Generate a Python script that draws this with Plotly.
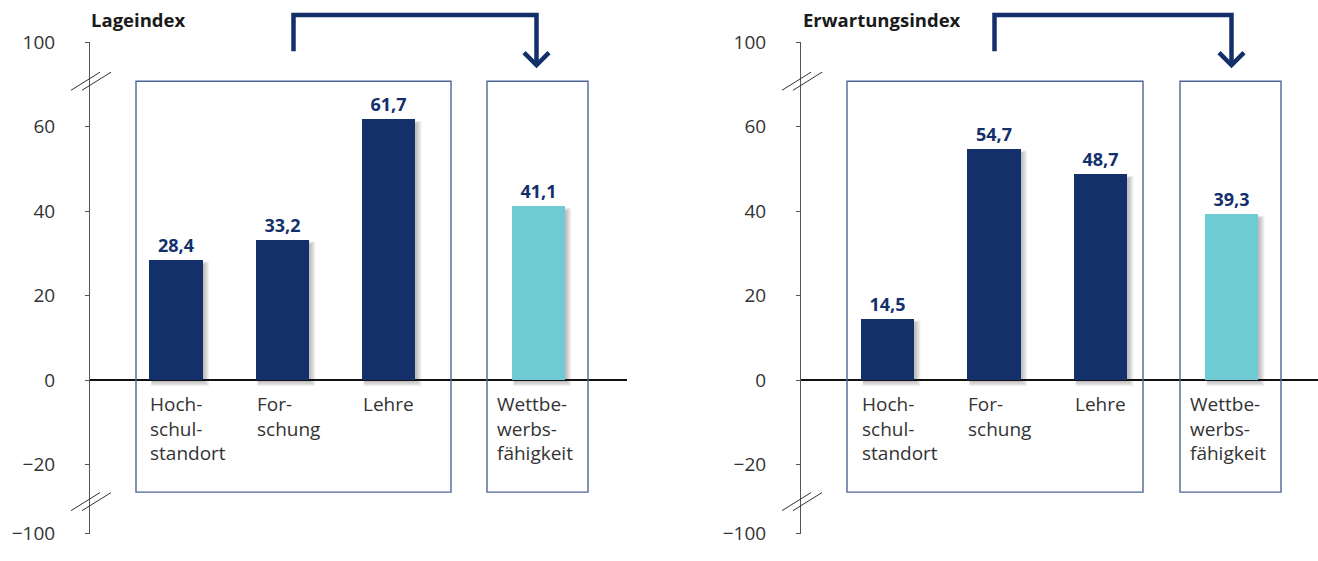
import plotly.graph_objects as go

# ---------------- data ----------------
categories = ["Hoch-<br>schul-<br>standort", "For-<br>schung", "Lehre", "Wettbe-<br>werbs-<br>fähigkeit"]
lage_values = [28.4, 33.2, 61.7, 41.1]
erwartung_values = [14.5, 54.7, 48.7, 39.3]
panel_titles = ["Lageindex", "Erwartungsindex"]
tick_main = [60, 40, 20, 0, -20]
tick_main_text = ["60", "40", "20", "0", "\u221220"]
break_tick_text = ["100", "\u2212100"]   # labels shown beyond the axis breaks

# ---------------- layout constants ----------------
W, H = 1318, 561
# measured screen mapping of this page: screen_y = S_OFF + S_SCALE * figure_y
S_OFF, S_SCALE = 14.0, 0.9505
NAVY = "#13306b"
TEAL = "#6ecbd3"
BOXC = "#4d6595"
AXC = "#555555"
FONT = "Open Sans"


def fy(sy):
    """screen y (px) -> figure y (px)"""
    return (sy - S_OFF) / S_SCALE


TOP_FY = fy(43)          # '100' tick (value 80 on the linear axis)
ZERO_FY = fy(380)
BOT_FY = 546             # '-100' tick, as low as fits
PX_PER_Y = (ZERO_FY - TOP_FY) / 80.0
TOP_VAL = 80.0
BOT_VAL = -(BOT_FY - ZERO_FY) / PX_PER_Y

panels = [
    dict(values=lage_values, title=panel_titles[0], axis_px=90, right_px=627,
         c0_px=176.0, ppx=106.3, pos=[0, 1, 2, 3.408],
         box1=(136, 451), box2=(487, 588), arrow_l=293.5, arrow_r=536.5, title_px=89),
    dict(values=erwartung_values, title=panel_titles[1], axis_px=801, right_px=1318,
         c0_px=887.5, ppx=106.5, pos=[0, 1, 2, 3.23],
         box1=(847, 1143), box2=(1180, 1281), arrow_l=994.5, arrow_r=1231.5, title_px=801),
]
BAR_W_PX = 53.5
BOX_TOP_SY, BOX_BOT_SY = 82, 491.5


def sy2v(sy):
    return (ZERO_FY - fy(sy)) / PX_PER_Y


def px2paper(px):
    return px / W


def sy2paper(sy):
    return 1 - fy(sy) / H


def fy2paper(f):
    return 1 - f / H


fig = go.Figure()
shapes = []
annotations = []

for i, p in enumerate(panels):
    xa = "x" if i == 0 else "x2"
    ya = "y" if i == 0 else "y2"
    ppx = p["ppx"]
    bw = BAR_W_PX / ppx
    colors = [NAVY, NAVY, NAVY, TEAL]

    # soft shadows under the bars
    for xv, v in zip(p["pos"], p["values"]):
        for k in range(5):
            grow = 1.2 * k
            shapes.append(dict(
                type="rect", xref=xa, yref=ya, layer="below",
                x0=xv - bw / 2 + (3 - grow * 0.3) / ppx,
                x1=xv + bw / 2 + (1.5 + grow) / ppx,
                y0=-(1.5 + grow) / PX_PER_Y,
                y1=v - (4 - grow * 0.5) / PX_PER_Y,
                fillcolor="rgba(0,0,0,0.055)", line=dict(width=0)))

    fig.add_trace(go.Bar(
        x=p["pos"], y=p["values"], width=bw, marker=dict(color=colors, line=dict(width=0)),
        text=[f"{v:.1f}".replace(".", ",") for v in p["values"]],
        textposition="outside", constraintext="none", cliponaxis=False,
        textfont=dict(family=FONT, size=18, color=NAVY, weight="bold"),
        xaxis=xa, yaxis=ya, showlegend=False, hoverinfo="skip"))

    # category labels below the zero line
    for j, (xv, c) in enumerate(zip(p["pos"], categories)):
        if j == 3:   # last label sits at the left of its own frame
            lx = (p["box2"][0] + 9 - p["c0_px"]) / ppx
        else:
            lx = xv - bw / 2
        annotations.append(dict(
            x=lx, y=0, xref=xa, yref=ya, xanchor="left", yanchor="top",
            yshift=-8.5, xshift=-1, text=c, showarrow=False, align="left",
            font=dict(family=FONT, size=19, color="#333333")))

    # frames
    for (l, r) in (p["box1"], p["box2"]):
        shapes.append(dict(
            type="rect", xref=xa, yref=ya, layer="above",
            x0=(l - p["c0_px"]) / ppx, x1=(r - p["c0_px"]) / ppx,
            y0=sy2v(BOX_BOT_SY), y1=sy2v(BOX_TOP_SY),
            line=dict(color=BOXC, width=1.4), fillcolor="rgba(0,0,0,0)"))

    # axis break marks
    ax = p["axis_px"]
    for yc in (82, 501):
        for dx in (0, 11):
            shapes.append(dict(
                type="line", xref="paper", yref="paper",
                x0=px2paper(ax - 19 + dx), y0=sy2paper(yc + 9),
                x1=px2paper(ax + 10 + dx), y1=sy2paper(yc - 9),
                line=dict(color="#333333", width=1)))

    # arrow
    l, r = p["arrow_l"], p["arrow_r"]
    top = fy2paper(2.0)
    path = (f"M {px2paper(l)},{sy2paper(52)} L {px2paper(l)},{top} "
            f"L {px2paper(r)},{top} L {px2paper(r)},{sy2paper(64)}")
    shapes.append(dict(type="path", xref="paper", yref="paper", path=path,
                       line=dict(color=NAVY, width=4.5)))
    chev = (f"M {px2paper(r - 12.5)},{sy2paper(53.5)} L {px2paper(r)},{sy2paper(66)} "
            f"L {px2paper(r + 12.5)},{sy2paper(53.5)}")
    shapes.append(dict(type="path", xref="paper", yref="paper", path=chev,
                       line=dict(color=NAVY, width=4.5)))

    # panel title
    annotations.append(dict(
        x=px2paper(p["title_px"]), y=sy2paper(20), xref="paper", yref="paper",
        xanchor="left", yanchor="middle", text=p["title"], showarrow=False,
        font=dict(family=FONT, size=18.5, color="#1a1a1a", weight="bold")))

y_domain = [fy2paper(BOT_FY), fy2paper(TOP_FY)]
tickvals = [TOP_VAL] + tick_main + [BOT_VAL]
ticktext = [break_tick_text[0]] + tick_main_text + [break_tick_text[1]]


def yaxis_def(anchor):
    return dict(
        domain=y_domain, range=[BOT_VAL, TOP_VAL], anchor=anchor,
        tickmode="array", tickvals=tickvals, ticktext=ticktext,
        ticks="outside", ticklen=4, tickwidth=1, tickcolor=AXC,
        showline=True, linecolor=AXC, linewidth=1,
        showgrid=False, zeroline=True, zerolinecolor="#111111", zerolinewidth=2,
        ticklabelstandoff=26, ticklabeloverflow="allow",
        tickfont=dict(family=FONT, size=19, color="#333333"))


def xaxis_def(p, anchor):
    return dict(
        domain=[px2paper(p["axis_px"]), px2paper(p["right_px"])],
        range=[(p["axis_px"] - p["c0_px"]) / p["ppx"], (p["right_px"] - p["c0_px"]) / p["ppx"]],
        anchor=anchor, showgrid=False, zeroline=False, showline=False,
        showticklabels=False, ticks="")


fig.update_layout(
    width=W, height=H,
    margin=dict(l=0, r=0, t=0, b=0, pad=0),
    paper_bgcolor="white", plot_bgcolor="white",
    xaxis=xaxis_def(panels[0], "y"),
    xaxis2=xaxis_def(panels[1], "y2"),
    yaxis=yaxis_def("x"),
    yaxis2=yaxis_def("x2"),
    shapes=shapes, annotations=annotations,
    bargap=0, showlegend=False,
)

fig.write_html("out.html")
